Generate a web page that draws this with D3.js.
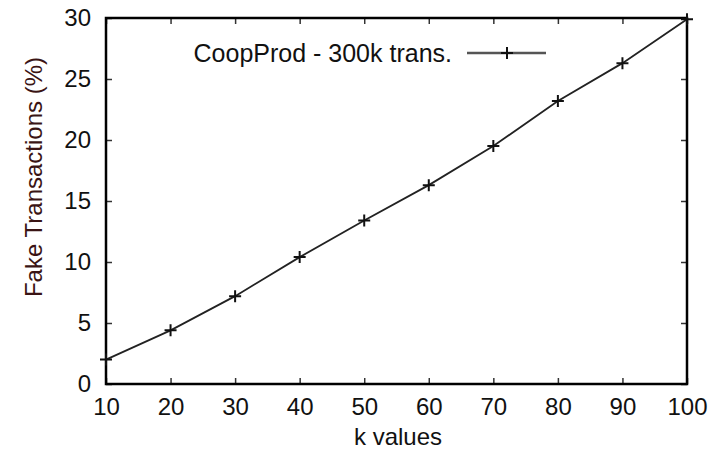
<!DOCTYPE html>
<html>
<head>
<meta charset="utf-8">
<script src="https://cdn.jsdelivr.net/npm/d3@7"></script>
<style>
  body { margin: 0; background: #fff; }
  text { font-family: "Liberation Sans", Arial, sans-serif; }
</style>
</head>
<body>
<div id="chart"></div>
<script>
// data
var kValues = [10, 20, 30, 40, 50, 60, 70, 80, 90, 100];
var fakePct = [2.0, 4.4, 7.2, 10.4, 13.4, 16.3, 19.5, 23.2, 26.3, 29.9];
var xTicks = [10, 20, 30, 40, 50, 60, 70, 80, 90, 100];
var yTicks = [0, 5, 10, 15, 20, 25, 30];
var seriesName = "CoopProd - 300k trans.";

var W = 722, H = 452;
var mLeft = 106, mRight = 687, mTop = 18, mBottom = 384;

var svg = d3.select("#chart").append("svg")
    .attr("width", W)
    .attr("height", H);

var x = d3.scaleLinear().domain([10, 100]).range([mLeft, mRight]);
var y = d3.scaleLinear().domain([0, 30]).range([mBottom, mTop]);

// axes, ticks pointing inward and mirrored on top/right
svg.append("g")
    .attr("transform", "translate(0," + mBottom + ")")
    .call(d3.axisBottom(x).tickValues(xTicks).tickSize(-6).tickPadding(14));
svg.append("g")
    .attr("transform", "translate(" + mLeft + ",0)")
    .call(d3.axisLeft(y).tickValues(yTicks).tickSize(-6).tickPadding(15));
svg.append("g")
    .attr("transform", "translate(0," + mTop + ")")
    .call(d3.axisTop(x).tickValues(xTicks).tickSize(-6).tickFormat(""));
svg.append("g")
    .attr("transform", "translate(" + mRight + ",0)")
    .call(d3.axisRight(y).tickValues(yTicks).tickSize(-6).tickFormat(""));

svg.selectAll(".domain").remove();
svg.selectAll(".tick line").attr("stroke", "#333").attr("stroke-width", 1.5);
svg.selectAll(".tick text")
    .style("font-size", "24px")
    .attr("fill", "#111");

// frame
svg.append("rect")
    .attr("x", mLeft).attr("y", mTop)
    .attr("width", mRight - mLeft).attr("height", mBottom - mTop)
    .attr("fill", "none")
    .attr("stroke", "#000")
    .attr("stroke-width", 2.5);

// series line
var pts = kValues.map(function(k, i) { return [k, fakePct[i]]; });
var line = d3.line()
    .x(function(d) { return x(d[0]); })
    .y(function(d) { return y(d[1]); });

svg.append("path")
    .datum(pts)
    .attr("d", line)
    .attr("fill", "none")
    .attr("stroke", "#222")
    .attr("stroke-width", 1.8);

function plus(g, cx, cy) {
  g.append("path")
    .attr("d", "M" + (cx - 6) + "," + cy + "H" + (cx + 6) + "M" + cx + "," + (cy - 6) + "V" + (cy + 6))
    .attr("stroke", "#111")
    .attr("stroke-width", 2);
}
var marks = svg.append("g");
pts.forEach(function(d) { plus(marks, x(d[0]), y(d[1])); });

// legend
var legY = 53;
svg.append("text")
    .attr("x", 452).attr("y", legY)
    .attr("dy", "0.35em")
    .attr("text-anchor", "end")
    .style("font-size", "25px")
    .attr("fill", "#111")
    .text(seriesName);
svg.append("line")
    .attr("x1", 467).attr("x2", 546)
    .attr("y1", legY).attr("y2", legY)
    .attr("stroke", "#555")
    .attr("stroke-width", 2.5);
plus(svg, 507, legY);

// axis labels
svg.append("text")
    .attr("x", 398).attr("y", 437)
    .attr("dy", "0.35em")
    .attr("text-anchor", "middle")
    .style("font-size", "24px")
    .attr("fill", "#111")
    .text("k values");

svg.append("text")
    .attr("transform", "translate(34,177) rotate(-90)")
    .attr("dy", "0.35em")
    .attr("text-anchor", "middle")
    .style("font-size", "24px")
    .attr("fill", "#3a1414")
    .text("Fake Transactions (%)");
</script>
</body>
</html>
